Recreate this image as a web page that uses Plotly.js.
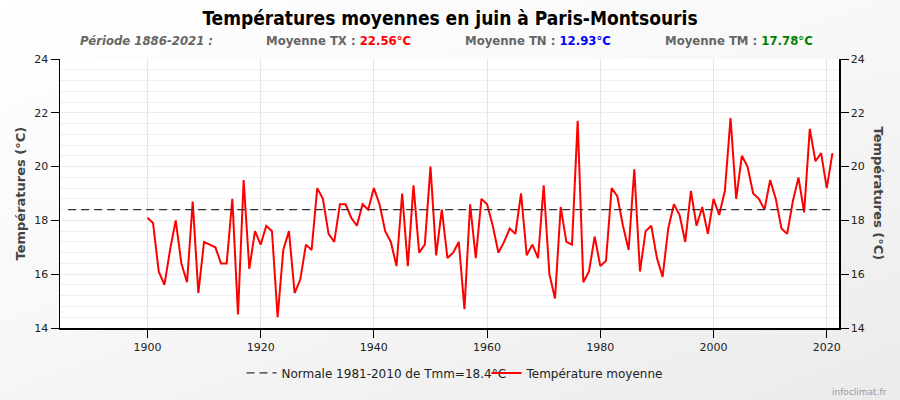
<!DOCTYPE html>
<html>
<head>
<meta charset="utf-8">
<script src="https://cdn.plot.ly/plotly-3.0.1.min.js"></script>
<style>
  html, body { margin: 0; padding: 0; }
  body { width: 900px; height: 400px; background: linear-gradient(160deg, #ffffff 0%, #f8f8f8 45%, #ebebeb 100%); }
  #chart { width: 900px; height: 400px; }
</style>
</head>
<body>
<div id="chart"></div>
<script>
// ---- Data ----
const startYear = 1900;
const temperatures = [
  18.1, 17.9, 16.1, 15.6, 16.9, 18.0, 16.4, 15.7, 18.7, 15.3,
  17.2, 17.1, 17.0, 16.4, 16.4, 18.8, 14.5, 19.5, 16.2, 17.6,
  17.1, 17.8, 17.6, 14.4, 16.9, 17.6, 15.3, 15.8, 17.1, 16.9,
  19.2, 18.8, 17.5, 17.2, 18.6, 18.6, 18.1, 17.8, 18.6, 18.4,
  19.2, 18.6, 17.6, 17.2, 16.3, 19.0, 16.3, 19.3, 16.8, 17.1,
  20.0, 16.7, 18.4, 16.6, 16.8, 17.2, 14.7, 18.6, 16.6, 18.8,
  18.6, 17.8, 16.8, 17.2, 17.7, 17.5, 19.0, 16.7, 17.1, 16.6,
  19.3, 16.0, 15.1, 18.5, 17.2, 17.1, 21.7, 15.7, 16.1, 17.4,
  16.3, 16.5, 19.2, 18.9, 17.8, 16.9, 19.9, 16.1, 17.6, 17.8,
  16.6, 15.9, 17.7, 18.6, 18.2, 17.2, 19.1, 17.8, 18.5, 17.5,
  18.8, 18.2, 19.1, 21.8, 18.8, 20.4, 20.0, 19.0, 18.8, 18.4,
  19.5, 18.8, 17.7, 17.5, 18.7, 19.6, 18.3, 21.4, 20.2, 20.5,
  19.2, 20.5
];
const normalYears = [1886, 2021];
const normalValues = [18.4, 18.4];
const normalLabel = "Normale 1981-2010 de Tmm=18.4°C";
const seriesLabel = "Température moyenne";
const xTickVals = [1900, 1920, 1940, 1960, 1980, 2000, 2020];
const yTickVals = [14, 16, 18, 20, 22, 24];
const titleText = "Températures moyennes en juin à Paris-Montsouris";
const yTitleText = "Températures (°C)";
const periodText = "Période 1886-2021 :";
const meanTX = "22.56°C", meanTN = "12.93°C", meanTM = "17.78°C";

// ---- Chart ----
const condensed = '"DejaVu Sans Condensed", "DejaVu Sans", sans-serif';
const plain = '"DejaVu Sans", Verdana, sans-serif';

const traces = [
  {
    type: 'scatter', mode: 'lines',
    x: normalYears, y: normalValues,
    name: normalLabel,
    yaxis: 'y2',
    line: { color: '#333333', width: 1.3, dash: '8px,5px' }
  },
  {
    type: 'scatter', mode: 'lines',
    x0: startYear, dx: 1, y: temperatures,
    name: seriesLabel,
    line: { color: '#ff0000', width: 2 }
  }
];

const yCommon = {
  range: [14, 24],
  tickvals: yTickVals,
  ticks: 'outside', ticklen: 8, tickcolor: '#000', tickwidth: 1,
  showline: true, linecolor: '#000', linewidth: 1.5,
  tickfont: { family: plain, size: 11, color: '#222' },
  zeroline: false,
  fixedrange: true
};

const subFont = { family: condensed, size: 13, color: '#666' };
const ySub = 1.0706;

const layout = {
  width: 900, height: 400,
  margin: { l: 60, r: 61, t: 59, b: 72 },
  paper_bgcolor: 'rgba(0,0,0,0)',
  plot_bgcolor: '#ffffff',
  showlegend: true,
  hovermode: false,
  title: {
    text: '<b>' + titleText + '</b>',
    font: { family: condensed, size: 19, color: '#000' },
    x: 0.5, xanchor: 'center',
    y: 0.955, yref: 'container', yanchor: 'middle'
  },
  xaxis: {
    range: [1884.56, 2022.16],
    tickvals: xTickVals,
    ticks: 'outside', ticklen: 8, tickcolor: '#000',
    showline: true, linecolor: '#000', linewidth: 1.5,
    showgrid: true, gridcolor: '#e6e6e6', gridwidth: 1,
    tickfont: { family: plain, size: 11, color: '#222' },
    zeroline: false
  },
  yaxis: Object.assign({}, yCommon, {
    side: 'left',
    showgrid: true, gridcolor: '#ececec',
    minor: { dtick: 0.4, showgrid: true, gridcolor: '#f0f0f0', ticks: '' }
  }),
  yaxis2: Object.assign({}, yCommon, {
    side: 'right', overlaying: 'y',
    showgrid: false
  }),
  legend: {
    orientation: 'h',
    x: 0.5475, xanchor: 'center',
    y: -0.167, yanchor: 'middle',
    font: { family: plain, size: 12, color: '#222' },
    bgcolor: 'rgba(0,0,0,0)',
    itemwidth: 30,
    entrywidth: 200, entrywidthmode: 'pixels'
  },
  annotations: [
    { text: '<b><i>' + periodText + '</i></b>', xref: 'paper', yref: 'paper', x: (77.5 - 60) / 779, y: ySub, xanchor: 'left', yanchor: 'middle', showarrow: false, font: subFont },
    { text: '<b>Moyenne TX : <span style="color:#ff0000">' + meanTX + '</span></b>', xref: 'paper', yref: 'paper', x: (264 - 60) / 779, y: ySub, xanchor: 'left', yanchor: 'middle', showarrow: false, font: subFont },
    { text: '<b>Moyenne TN : <span style="color:#0000ff">' + meanTN + '</span></b>', xref: 'paper', yref: 'paper', x: (463 - 60) / 779, y: ySub, xanchor: 'left', yanchor: 'middle', showarrow: false, font: subFont },
    { text: '<b>Moyenne TM : <span style="color:#008000">' + meanTM + '</span></b>', xref: 'paper', yref: 'paper', x: (663 - 60) / 779, y: ySub, xanchor: 'left', yanchor: 'middle', showarrow: false, font: subFont },
    { text: '<b>' + yTitleText + '</b>', xref: 'paper', yref: 'paper', x: (20 - 60) / 779, y: 0.5, xanchor: 'center', yanchor: 'middle', textangle: -90, showarrow: false, font: { family: plain, size: 13, color: '#444' } },
    { text: '<b>' + yTitleText + '</b>', xref: 'paper', yref: 'paper', x: (878 - 60) / 779, y: 0.5, xanchor: 'center', yanchor: 'middle', textangle: 90, showarrow: false, font: { family: plain, size: 13, color: '#444' } },
    { text: 'infoclimat.fr', xref: 'paper', yref: 'paper', x: (889 - 60) / 779, y: (328 - 392) / 269, xanchor: 'right', yanchor: 'middle', showarrow: false, font: { family: plain, size: 9, color: '#999' } }
  ]
};

Plotly.newPlot('chart', traces, layout, { displayModeBar: false, staticPlot: true });
</script>
</body>
</html>
